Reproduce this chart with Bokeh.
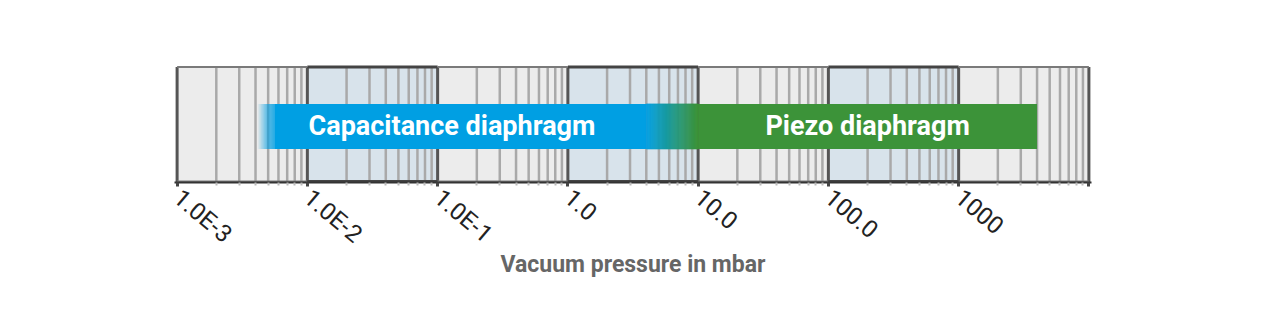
import numpy as np
from bokeh.plotting import figure
from bokeh.models import Range1d, FixedTicker
from bokeh.core.properties import value
from bokeh.embed import file_html
from bokeh.resources import INLINE

# ---- data ----
decades = [1e-3, 1e-2, 1e-1, 1.0, 10.0, 100.0, 1000.0, 10000.0]
tick_labels = ["1.0E-3", "1.0E-2", "1.0E-1", "1.0", "10.0", "100.0", "1000", ""]
sensor_names = ["Capacitance diaphragm", "Piezo diaphragm"]
sensor_start = [5.6e-3, 10.0]      # mbar
sensor_solid_end = [4.0, 4000.0]  # end of solid colour (capacitance fades into piezo)
sensor_colors = ["#009fe3", "#3c9339"]
x_label = "Vacuum pressure in mbar"

# ---- figure ----
p = figure(width=1264, height=314, x_axis_type="log",
           x_range=Range1d(10 ** -3.02, 10 ** 4.02), y_range=Range1d(0, 1.03),
           y_axis_location=None, toolbar_location=None, output_backend="svg",
           min_border_left=174, min_border_right=173, min_border_top=63,
           min_border_bottom=132)
p.xgrid.visible = False
p.ygrid.visible = False
p.outline_line_color = None

lefts = decades[:-1]
rights = decades[1:]
bg = ["#ececec" if i % 2 == 0 else "#d8e3eb" for i in range(len(lefts))]
p.quad(left=lefts, right=rights, bottom=0, top=1, fill_color=bg, line_color=None)

minors = [k * d for d in decades[:-1] for k in range(2, 10)]
p.segment(x0=minors, y0=0, x1=minors, y1=1, line_color="#a9a9a9", line_width=2.5)
p.segment(x0=decades, y0=0, x1=decades, y1=1, line_color="#555555", line_width=3)

# top and bottom borders
tcol = ["#7a7a7a" if i % 2 == 0 else "#444444" for i in range(len(lefts))]
twid = [2 if i % 2 == 0 else 3 for i in range(len(lefts))]
p.segment(x0=lefts, y0=1, x1=rights, y1=1, line_color=tcol, line_width=twid)
p.segment(x0=lefts, y0=0.008, x1=rights, y1=0.008, line_color=tcol, line_width=twid)

# ---- sensor bars ----
yb, yt = 0.29, 0.68
p.quad(left=sensor_start, right=sensor_solid_end, bottom=yb, top=yt,
       fill_color=sensor_colors, line_color=None)

# left fade-in of capacitance bar
l0 = np.log10(sensor_start[0])
fade = 0.13
nf = 16
fe = np.linspace(l0 - fade, l0, nf + 1)
p.quad(left=10 ** fe[:-1], right=10 ** (fe[1:] + 0.001), bottom=yb, top=yt,
       fill_color=sensor_colors[0], fill_alpha=list(np.linspace(0.04, 1, nf)),
       line_color=None)

# gradient between capacitance and piezo
def hex2rgb(h):
    return np.array([int(h[i:i + 2], 16) for i in (1, 3, 5)], float)

c0, c1 = hex2rgb(sensor_colors[0]), hex2rgb(sensor_colors[1])
ng = 50
ge = np.linspace(np.log10(sensor_solid_end[0]), np.log10(sensor_start[1]), ng + 1)
gcols = []
for t in np.linspace(0, 1, ng):
    c = c0 + (c1 - c0) * t
    gcols.append("#%02x%02x%02x" % tuple(int(round(v)) for v in c))
p.quad(left=10 ** ge[:-1], right=10 ** ge[1:], bottom=yb, top=yt,
       fill_color=gcols, line_color=gcols, line_width=0.6)

label_x = [np.sqrt(10 ** (l0 - fade) * sensor_solid_end[0]),
           np.sqrt(sensor_start[1] * sensor_solid_end[1])]
p.text(x=label_x, y=[(yb + yt) / 2] * 2, text=sensor_names,
       text_font=value("Roboto"), text_font_style="bold", text_font_size="27px",
       text_color="white", text_align="center", text_baseline="middle")

# ---- axis ----
ax = p.xaxis[0]
ax.ticker = FixedTicker(ticks=decades, minor_ticks=minors)
ax.major_label_overrides = {d: l for d, l in zip(decades, tick_labels)}
ax.major_label_orientation = -0.70
ax.major_label_text_font = "Roboto"
ax.major_label_text_font_size = "24px"
ax.major_label_text_color = "#222222"
ax.major_label_standoff = 8
ax.axis_line_color = "#333333"
ax.axis_line_width = 2
ax.major_tick_in = 0
ax.major_tick_out = 4
ax.major_tick_line_color = "#444444"
ax.major_tick_line_width = 3
ax.minor_tick_in = 0
ax.minor_tick_out = 3
ax.minor_tick_line_color = "#bbbbbb"
ax.minor_tick_line_width = 2
ax.axis_label = x_label
ax.axis_label_text_font = "Roboto"
ax.axis_label_text_font_style = "bold"
ax.axis_label_text_font_size = "23px"
ax.axis_label_text_color = "#666666"
ax.axis_label_standoff = -11

open("out.html", "w").write(file_html(p, INLINE))
